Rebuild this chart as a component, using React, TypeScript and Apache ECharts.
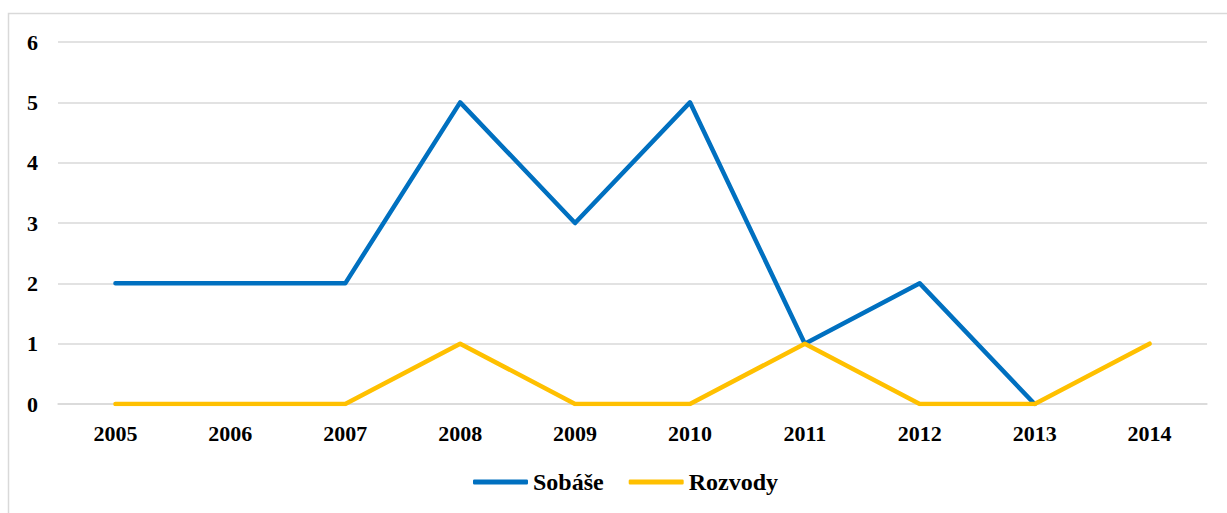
import React, { useEffect, useRef } from "react";
import * as echarts from "echarts";

const categories = ["2005", "2006", "2007", "2008", "2009", "2010", "2011", "2012", "2013", "2014"];
const sobase = [2, 2, 2, 5, 3, 5, 1, 2, 0, null];
const rozvody = [0, 0, 0, 1, 0, 0, 1, 0, 0, 1];

export default function App() {
  const ref = useRef<HTMLDivElement>(null);
  useEffect(() => {
    const chart = echarts.init(ref.current!, null, { renderer: "svg" });
    const font = { fontFamily: "Liberation Serif", fontWeight: "bold" as const, fontSize: 22, color: "#000" };
    chart.setOption({
      animation: false,
      backgroundColor: "#fff",
      graphic: [
        {
          type: "rect",
          shape: { x: 8.5, y: 13.5, width: 1240, height: 540 },
          style: { fill: "none", stroke: "#d9d9d9", lineWidth: 1.5 },
          silent: true,
        },
      ],
      grid: { left: 58, right: 20, top: 42, bottom: 109 },
      xAxis: {
        type: "category",
        data: categories,
        axisLine: { show: true, lineStyle: { color: "#d9d9d9", width: 1.5 } },
        axisTick: { show: false },
        axisLabel: { ...font, margin: 18 },
      },
      yAxis: {
        type: "value",
        min: 0,
        max: 6,
        interval: 1,
        axisLine: { show: false },
        axisTick: { show: false },
        splitLine: { lineStyle: { color: "#d9d9d9", width: 1.5 } },
        axisLabel: { ...font, margin: 20 },
      },
      legend: {
        bottom: 14,
        left: 468,
        itemWidth: 55,
        itemHeight: 5,
        itemGap: 25,
        textStyle: { ...font, fontSize: 24 },
        data: [
          { name: "Sobáše", icon: "roundRect" },
          { name: "Rozvody", icon: "roundRect" },
        ],
      },
      series: [
        {
          name: "Sobáše",
          type: "line",
          data: sobase,
          symbol: "none",
          lineStyle: { color: "#0070C0", width: 4.5, cap: "round", join: "round" },
          itemStyle: { color: "#0070C0" },
        },
        {
          name: "Rozvody",
          type: "line",
          data: rozvody,
          symbol: "none",
          lineStyle: { color: "#FFC000", width: 4.5, cap: "round", join: "round" },
          itemStyle: { color: "#FFC000" },
        },
      ],
    });
    return () => chart.dispose();
  }, []);
  return <div ref={ref} style={{ position: "absolute", left: 0, top: 0, width: 1227, height: 513 }} />;
}
